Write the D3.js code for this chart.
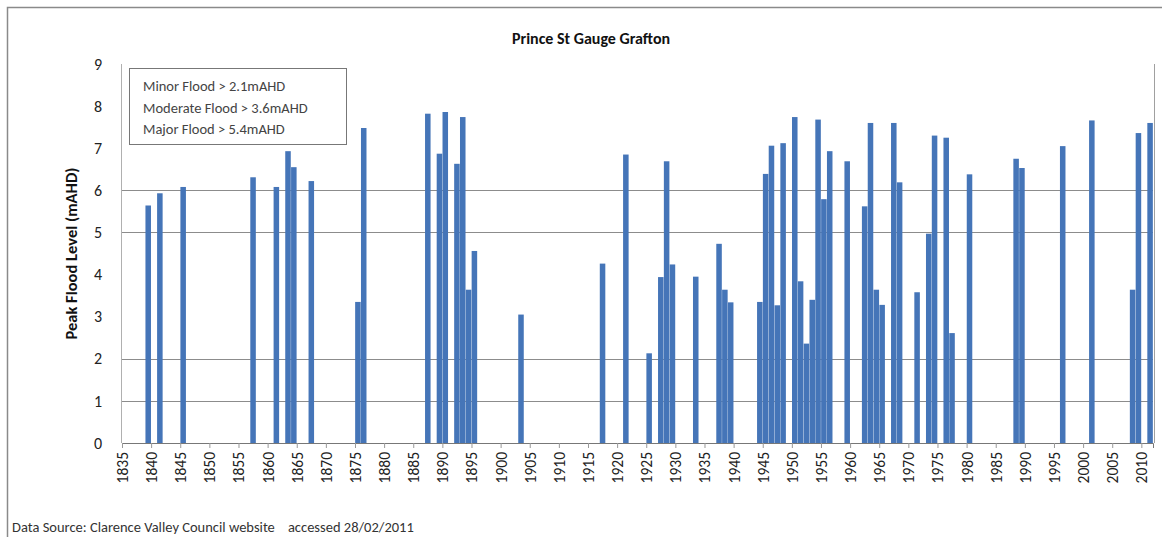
<!DOCTYPE html>
<html>
<head>
<meta charset="utf-8">
<script src="https://cdn.jsdelivr.net/npm/d3@7"></script>
<style>
  body { margin: 0; background: #fff; }
  svg text { font-family: Carlito, Lato, "Open Sans", sans-serif; }
</style>
</head>
<body>
<div class="chart"></div>
<script>
// flood years and peak levels (mAHD)
var years = [1839, 1841, 1845, 1857, 1861, 1863, 1864, 1867, 1875, 1876,
             1887, 1889, 1890, 1892, 1893, 1894, 1895, 1903, 1917, 1921,
             1925, 1927, 1928, 1929, 1933, 1937, 1938, 1939, 1944, 1945,
             1946, 1947, 1948, 1950, 1951, 1952, 1953, 1954, 1955, 1956,
             1959, 1962, 1963, 1964, 1965, 1967, 1968, 1971, 1973, 1974,
             1976, 1977, 1980, 1988, 1989, 1996, 2001, 2008, 2009, 2011];
var peaks = [5.64, 5.93, 6.08, 6.31, 6.08, 6.93, 6.55, 6.22, 3.35, 7.48,
             7.82, 6.87, 7.86, 6.63, 7.74, 3.64, 4.56, 3.05, 4.26, 6.85,
             2.13, 3.94, 6.69, 4.24, 3.95, 4.73, 3.64, 3.34, 3.35, 6.39,
             7.06, 3.27, 7.12, 7.74, 3.84, 2.36, 3.40, 7.68, 5.79, 6.93,
             6.69, 5.62, 7.60, 3.64, 3.28, 7.60, 6.19, 3.58, 4.97, 7.30,
             7.25, 2.61, 6.38, 6.75, 6.53, 7.05, 7.66, 3.64, 7.36, 7.60];

var firstYear = 1835, lastYear = 2011;
var yearLabels = d3.range(1835, 2011, 5);
var yTicks = d3.range(0, 10);
var gridLevels = [1, 2, 5, 6];
var legendLines = ["Minor Flood > 2.1mAHD", "Moderate Flood > 3.6mAHD", "Major Flood > 5.4mAHD"];

var width = 1162, height = 537;
var plotLeft = 122, plotRight = 1153, plotTop = 64, plotBottom = 443;

var svg = d3.select(".chart").append("svg")
    .attr("width", width)
    .attr("height", height);

// outer chart border
svg.append("path")
    .attr("d", "M7.5," + height + "V7.5H" + width)
    .attr("fill", "none")
    .attr("stroke", "#8a8a8a")
    .attr("stroke-width", 1.5);

var x = d3.scaleBand()
    .domain(d3.range(firstYear, lastYear + 1))
    .range([plotLeft, plotRight])
    .padding(0);

var xl = d3.scaleLinear()
    .domain([firstYear, lastYear + 1])
    .range([plotLeft, plotRight]);

var y = d3.scaleLinear()
    .domain([0, 9])
    .range([plotBottom, plotTop]);

// grid
svg.append("g")
  .selectAll("line")
    .data(gridLevels)
  .enter().append("line")
    .attr("x1", plotLeft).attr("x2", plotRight)
    .attr("y1", function(d) { return Math.round(y(d)) + 0.5; })
    .attr("y2", function(d) { return Math.round(y(d)) + 0.5; })
    .attr("stroke", "#8c8c8c")
    .attr("stroke-width", 1.2);

// bars
svg.append("g")
  .selectAll("rect")
    .data(years)
  .enter().append("rect")
    .attr("x", function(d) { return x(d) + 0.15; })
    .attr("width", x.bandwidth() - 0.3)
    .attr("y", function(d, i) { return y(peaks[i]); })
    .attr("height", function(d, i) { return y(0) - y(peaks[i]); })
    .attr("fill", "#4575b8");

// plot frame sides
svg.append("line")
    .attr("x1", plotLeft - 0.5).attr("x2", plotLeft - 0.5)
    .attr("y1", plotTop).attr("y2", plotBottom)
    .attr("stroke", "#b0b0b0");
svg.append("line")
    .attr("x1", plotRight + 1.5).attr("x2", plotRight + 1.5)
    .attr("y1", plotTop).attr("y2", plotBottom)
    .attr("stroke", "#a0a0a0");

// y axis labels
var yAxis = svg.append("g")
    .attr("transform", "translate(" + plotLeft + ",0)")
    .call(d3.axisLeft(y).tickValues(yTicks).tickSize(0).tickPadding(20));
yAxis.select(".domain").remove();
yAxis.selectAll("text")
    .attr("font-size", 16)
    .attr("fill", "#222");

// x axis
var xAxis = svg.append("g")
    .attr("transform", "translate(0," + plotBottom + ")")
    .call(d3.axisBottom(xl).tickValues(yearLabels).tickSize(5).tickFormat(d3.format("d")));
xAxis.select(".domain").attr("stroke", "#777");
xAxis.selectAll(".tick line").attr("stroke", "#999");
xAxis.selectAll("text")
    .attr("font-size", 15.5)
    .attr("fill", "#222")
    .attr("text-anchor", "end")
    .attr("transform", "rotate(-90)")
    .attr("x", -9)
    .attr("y", 0)
    .attr("dy", "0.35em");

// title
svg.append("text")
    .attr("x", 591)
    .attr("y", 44)
    .attr("text-anchor", "middle")
    .attr("font-size", 16)
    .attr("font-weight", "bold")
    .attr("fill", "#111")
    .text("Prince St Gauge Grafton");

// y axis title
svg.append("text")
    .attr("transform", "translate(77," + (plotTop + plotBottom) / 2 + ")rotate(-90)")
    .attr("text-anchor", "middle")
    .attr("font-size", 16.5)
    .attr("font-weight", "bold")
    .attr("fill", "#111")
    .text("Peak Flood Level (mAHD)");

// threshold note box
var note = svg.append("g").attr("transform", "translate(129,68)");
note.append("rect")
    .attr("x", 0.5).attr("y", 0.5)
    .attr("width", 217).attr("height", 76)
    .attr("fill", "#fff")
    .attr("stroke", "#777");
note.selectAll("text")
    .data(legendLines)
  .enter().append("text")
    .attr("x", 14)
    .attr("y", function(d, i) { return 23 + i * 21.5; })
    .attr("font-size", 14.5)
    .attr("fill", "#444")
    .text(function(d) { return d; });

// source
svg.append("text")
    .attr("x", 12)
    .attr("y", 532)
    .attr("font-size", 14.5)
    .attr("fill", "#333")
    .attr("xml:space", "preserve")
    .style("white-space", "pre")
    .text("Data Source: Clarence Valley Council website    accessed 28/02/2011");
</script>
</body>
</html>
